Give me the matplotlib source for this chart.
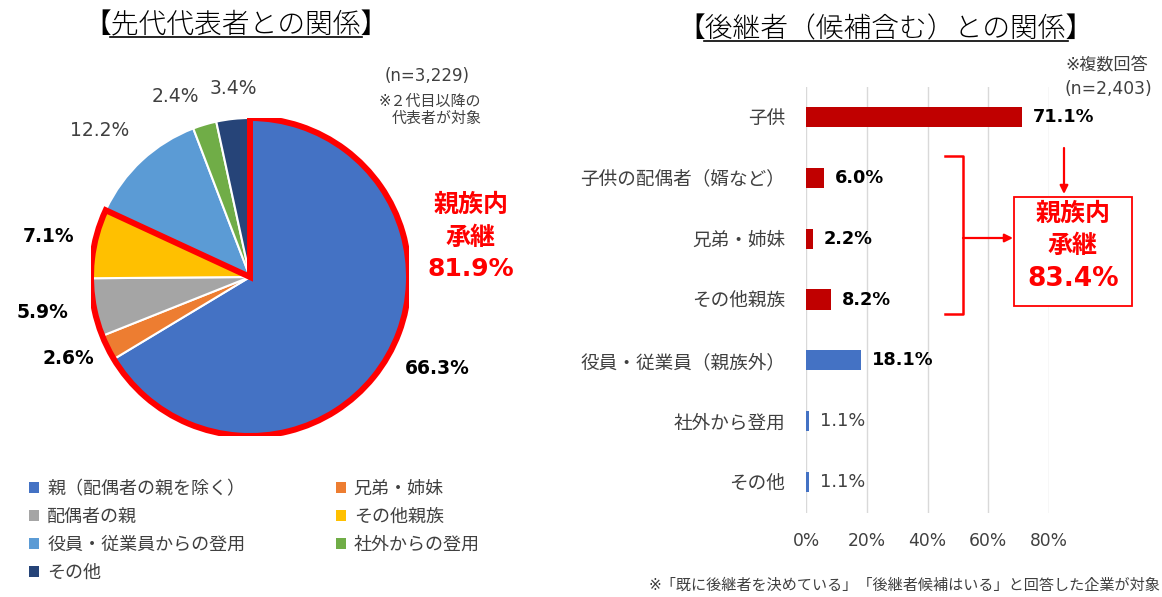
import numpy as np
import matplotlib
matplotlib.use('Agg')
import matplotlib.pyplot as plt
from matplotlib.patches import Wedge, Patch, Rectangle
from matplotlib.lines import Line2D

plt.rcParams['font.family'] = ['DejaVu Sans', 'Noto Sans CJK JP']

# 左：先代代表者との関係
pie_labels = ['親（配偶者の親を除く）', '兄弟・姉妹', '配偶者の親', 'その他親族',
              '役員・従業員からの登用', '社外からの登用', 'その他']
pie_values = [66.3, 2.6, 5.9, 7.1, 12.2, 2.4, 3.4]
pie_colors = ['#4472C4', '#ED7D31', '#A5A5A5', '#FFC000', '#5B9BD5', '#70AD47', '#264478']
pie_bold = [True, True, True, True, False, False, False]
family_total = 81.9

# 右：後継者（候補含む）との関係
bar_labels = ['子供', '子供の配偶者（婿など）', '兄弟・姉妹', 'その他親族',
              '役員・従業員（親族外）', '社外から登用', 'その他']
bar_values = [71.1, 6.0, 2.2, 8.2, 18.1, 1.1, 1.1]
bar_colors = ['#C00000'] * 4 + ['#4472C4'] * 3
bar_bold = [True, True, True, True, True, False, False]
family_total2 = 83.4
xticks = [0, 20, 40, 60, 80]

W, H = 1162, 597
fig = plt.figure(figsize=(W / 100, H / 100), dpi=100)
gray = '#404040'
red = '#FF0000'


def fx(x):
    return x / W


def fy(y):
    return 1 - y / H


# ---- 円グラフ ----
cx, cy, r = 250, 277, 159
ax1 = fig.add_axes([fx(cx - r), fy(cy + r), 2 * r / W, 2 * r / H])
ax1.pie(pie_values, colors=pie_colors, startangle=90, counterclock=False,
        wedgeprops=dict(edgecolor='white', linewidth=1.5), radius=1)
ax1.set_xlim(-1, 1)
ax1.set_ylim(-1, 1)
ax1.set_aspect('auto')
ax1.axis('off')

# 親族内承継の赤枠
end_ang = 90 - family_total / 100 * 360
ax1.add_patch(Wedge((0, 0), 1, end_ang, 90, fill=False, edgecolor=red,
                    linewidth=4.3, joinstyle='miter', zorder=5))

# ラベル位置（ピクセル）
lab_pos = [(437, 368), (68, 358), (42, 312), (49, 237), (100, 131), (175, 96), (233, 89)]
for v, b, (px, py) in zip(pie_values, pie_bold, lab_pos):
    ax1.text((px - cx) / r, (cy - py) / r, f'{v:.1f}%', ha='center', va='center',
             fontsize=13.5, fontweight='bold' if b else 'normal',
             color='#000000' if b else gray, clip_on=False)

fig.text(fx(471), fy(205), '親族内', ha='center', va='center', fontsize=18,
         fontweight='bold', color=red)
fig.text(fx(471), fy(238), '承継', ha='center', va='center', fontsize=18,
         fontweight='bold', color=red)
fig.text(fx(471), fy(269), f'{family_total}%', ha='center', va='center', fontsize=18,
         fontweight='bold', color=red)

fig.text(fx(427), fy(76), '(n=3,229)', ha='center', va='center', fontsize=12, color=gray)
fig.text(fx(379), fy(101), '※２代目以降の', ha='left', va='center', fontsize=10.8, color=gray)
fig.text(fx(392), fy(118), '代表者が対象', ha='left', va='center', fontsize=10.8, color=gray)

# 凡例（行方向に並べる）
handles = [Patch(facecolor=c, edgecolor='none') for c in pie_colors]
order = [0, 2, 4, 6, 1, 3, 5]
fig.legend([handles[i] for i in order], [pie_labels[i] for i in order],
           ncol=2, loc='upper left', bbox_to_anchor=(fx(13), fy(464)),
           frameon=False, fontsize=13, handlelength=0.55, handleheight=0.55,
           handletextpad=0.45, columnspacing=5.0, labelspacing=0.55,
           labelcolor=gray)

# タイトル（左）
t1 = fig.text(fx(236), fy(25), '【先代代表者との関係】', ha='center', va='center',
              fontsize=20, color='#000000', fontweight=300)

# ---- 棒グラフ ----
y0, y1 = 86.5, 512.5
ax2 = fig.add_axes([fx(806), fy(y1), (1049 - 806) / W, (y1 - y0) / H])
ypos = np.arange(len(bar_values))
ax2.barh(ypos, bar_values, height=0.33, color=bar_colors, zorder=3)
ax2.set_ylim(len(bar_values) - 0.5, -0.5)
ax2.set_xlim(0, 80)
ax2.set_xticks(xticks)
ax2.set_xticklabels([f'{t}%' for t in xticks], fontsize=12.3, color=gray)
ax2.set_yticks(ypos)
ax2.set_yticklabels(bar_labels, fontsize=13.4, color=gray)
ax2.tick_params(axis='both', length=0)
ax2.tick_params(axis='x', pad=14)
ax2.tick_params(axis='y', pad=15)
ax2.grid(axis='x', color='#D9D9D9', linewidth=1, zorder=0)
for s in ax2.spines.values():
    s.set_visible(False)
for i, (v, b) in enumerate(zip(bar_values, bar_bold)):
    ax2.annotate(f'{v:.1f}%', (v, i), xytext=(8, 0), textcoords='offset points',
                 ha='left', va='center', fontsize=12.8,
                 fontweight='bold' if b else 'normal',
                 color='#000000' if b else gray)

# 括弧と矢印
fig.add_artist(Line2D([fx(945), fx(963), fx(963), fx(945)],
                      [fy(156), fy(156), fy(314), fy(314)],
                      color=red, linewidth=1.8, solid_joinstyle='round'))
fig.add_artist(Rectangle((fx(1014), fy(306)), (1132 - 1014) / W, (306 - 197) / H,
                         facecolor='white', edgecolor=red, linewidth=1.3,
                         transform=fig.transFigure, zorder=2))
ann_kw = dict(xycoords='figure fraction', textcoords='figure fraction',
              arrowprops=dict(arrowstyle='-|>', color=red, lw=1.6,
                              mutation_scale=12, shrinkA=0, shrinkB=0))
fig.add_artist(plt.Annotation('', xy=(fx(1013), fy(238)), xytext=(fx(963), fy(238)), **ann_kw))
fig.add_artist(plt.Annotation('', xy=(fx(1064), fy(194)), xytext=(fx(1064), fy(148)), **ann_kw))

fig.text(fx(1073), fy(214), '親族内', ha='center', va='center', fontsize=18,
         fontweight='bold', color=red, zorder=3)
fig.text(fx(1073), fy(246), '承継', ha='center', va='center', fontsize=18,
         fontweight='bold', color=red, zorder=3)
fig.text(fx(1073), fy(279), f'{family_total2}%', ha='center', va='center', fontsize=19,
         fontweight='bold', color=red, zorder=3)

fig.text(fx(1107), fy(65), '※複数回答', ha='center', va='center', fontsize=12.3, color=gray)
fig.text(fx(1108), fy(89), '(n=2,403)', ha='center', va='center', fontsize=12.3, color=gray)

t2 = fig.text(fx(886), fy(29), '【後継者（候補含む）との関係】', ha='center', va='center',
              fontsize=20, color='#000000', fontweight=300)

fig.text(fx(1160), fy(585), '※「既に後継者を決めている」「後継者候補はいる」と回答した企業が対象',
         ha='right', va='center', fontsize=10.9, color=gray)

# タイトルの下線（括弧を除く）
fig.canvas.draw()
renderer = fig.canvas.get_renderer()
for t in (t1, t2):
    bb = t.get_window_extent(renderer)
    em = t.get_fontsize() * fig.dpi / 72
    fig.add_artist(Line2D([(bb.x0 + em * 0.95) / W, (bb.x1 - em * 0.95) / W],
                          [(bb.y0 + 2) / H, (bb.y0 + 2) / H],
                          color='#000000', linewidth=1.2))

fig.savefig('out.png', dpi=100)
